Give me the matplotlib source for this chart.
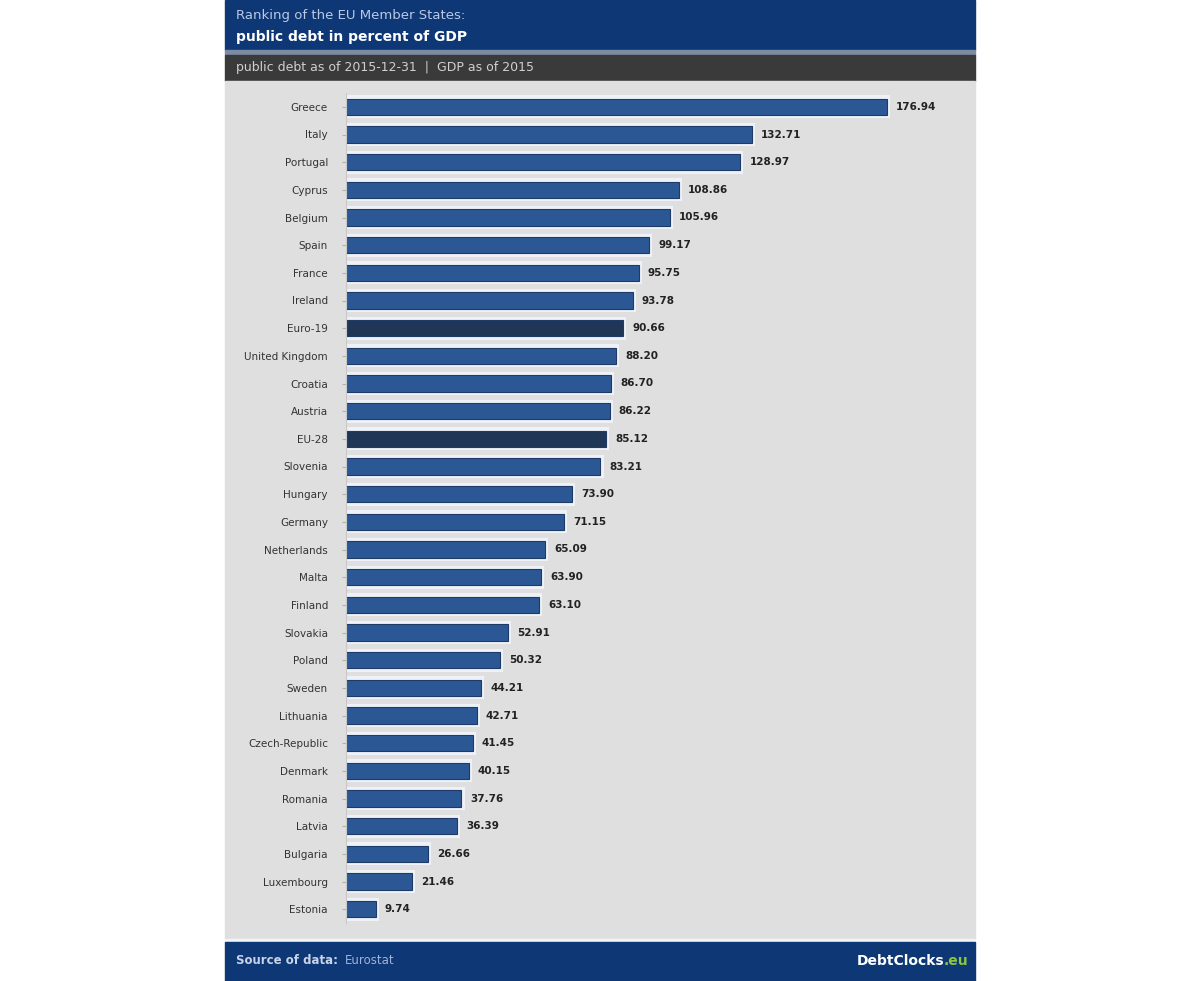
import matplotlib.pyplot as plt
from matplotlib.patches import Rectangle

countries = ["Greece", "Italy", "Portugal", "Cyprus", "Belgium", "Spain", "France",
             "Ireland", "Euro-19", "United Kingdom", "Croatia", "Austria", "EU-28",
             "Slovenia", "Hungary", "Germany", "Netherlands", "Malta", "Finland",
             "Slovakia", "Poland", "Sweden", "Lithuania", "Czech-Republic", "Denmark",
             "Romania", "Latvia", "Bulgaria", "Luxembourg", "Estonia"]
debt = [176.94, 132.71, 128.97, 108.86, 105.96, 99.17, 95.75, 93.78, 90.66, 88.20,
        86.70, 86.22, 85.12, 83.21, 73.90, 71.15, 65.09, 63.90, 63.10, 52.91,
        50.32, 44.21, 42.71, 41.45, 40.15, 37.76, 36.39, 26.66, 21.46, 9.74]
aggregates = ["Euro-19", "EU-28"]

W, H = 1200, 981
fig = plt.figure(figsize=(12, 9.81), dpi=100)
fig.patch.set_facecolor("white")


def band(y0, y1, color, x0=225, x1=975):
    # pixel coords from the top-left corner
    fig.patches.append(Rectangle((x0 / W, 1 - y1 / H), (x1 - x0) / W, (y1 - y0) / H,
                                 transform=fig.transFigure, color=color, zorder=-5))


band(0, 50, "#0d3775")
band(50, 55, "#7d8aa3")
band(55, 81, "#3a3a3a")
band(81, 939, "#dfdfdf")
band(939, 942, "#f2f4f8")
band(942, 981, "#0d3775")

fig.text(236 / W, 1 - 15 / H, "Ranking of the EU Member States:", color="#b9c9e6",
         fontsize=9.5, va="center", ha="left")
fig.text(236 / W, 1 - 37 / H, "public debt in percent of GDP", color="white",
         fontsize=10, fontweight="bold", va="center", ha="left")
fig.text(236 / W, 1 - 68 / H, "public debt as of 2015-12-31  |  GDP as of 2015",
         color="#d0d0d0", fontsize=9, va="center", ha="left")
fig.text(236 / W, 1 - 961 / H, "Source of data:", color="#c8d4ea", fontsize=8.5,
         fontweight="bold", va="center", ha="left")
fig.text(345 / W, 1 - 961 / H, "Eurostat", color="#9fb3d6", fontsize=8.5,
         va="center", ha="left")
fig.text(944 / W, 1 - 961 / H, "DebtClocks", color="white", fontsize=10,
         fontweight="bold", va="center", ha="right")
fig.text(944 / W, 1 - 961 / H, ".eu", color="#8cc63f", fontsize=10,
         fontweight="bold", va="center", ha="left")

ax = fig.add_axes([346 / W, 1 - 923 / H, (975 - 346) / W, (923 - 93) / H])
ax.set_facecolor("none")

ypos = list(range(len(countries)))
colors = ["#1f3657" if c in aggregates else "#2b5895" for c in countries]
ax.barh(ypos, [v + 1.0 for v in debt], height=0.82, color="#eef1f8", zorder=1)
ax.barh(ypos, debt, height=0.58, color=colors, edgecolor="#1d3b66",
        linewidth=0.8, zorder=2)

for y, v in zip(ypos, debt):
    ax.text(v + 3.0, y, f"{v:.2f}", va="center", ha="left", fontsize=7.5,
            fontweight="bold", color="#222222", zorder=3)

ax.set_yticks(ypos)
ax.set_yticklabels(countries, fontsize=7.5, color="#333333")
ax.set_ylim(len(countries) - 0.5, -0.5)
ax.set_xlim(0, (975 - 346) / 3.058)
ax.set_xticks([])
ax.tick_params(axis="y", length=3, color="#b0b0b0", pad=10)
for s in ["top", "right", "bottom"]:
    ax.spines[s].set_visible(False)
ax.spines["left"].set_color("#c8c8c8")

fig.savefig("out.png", dpi=100)
